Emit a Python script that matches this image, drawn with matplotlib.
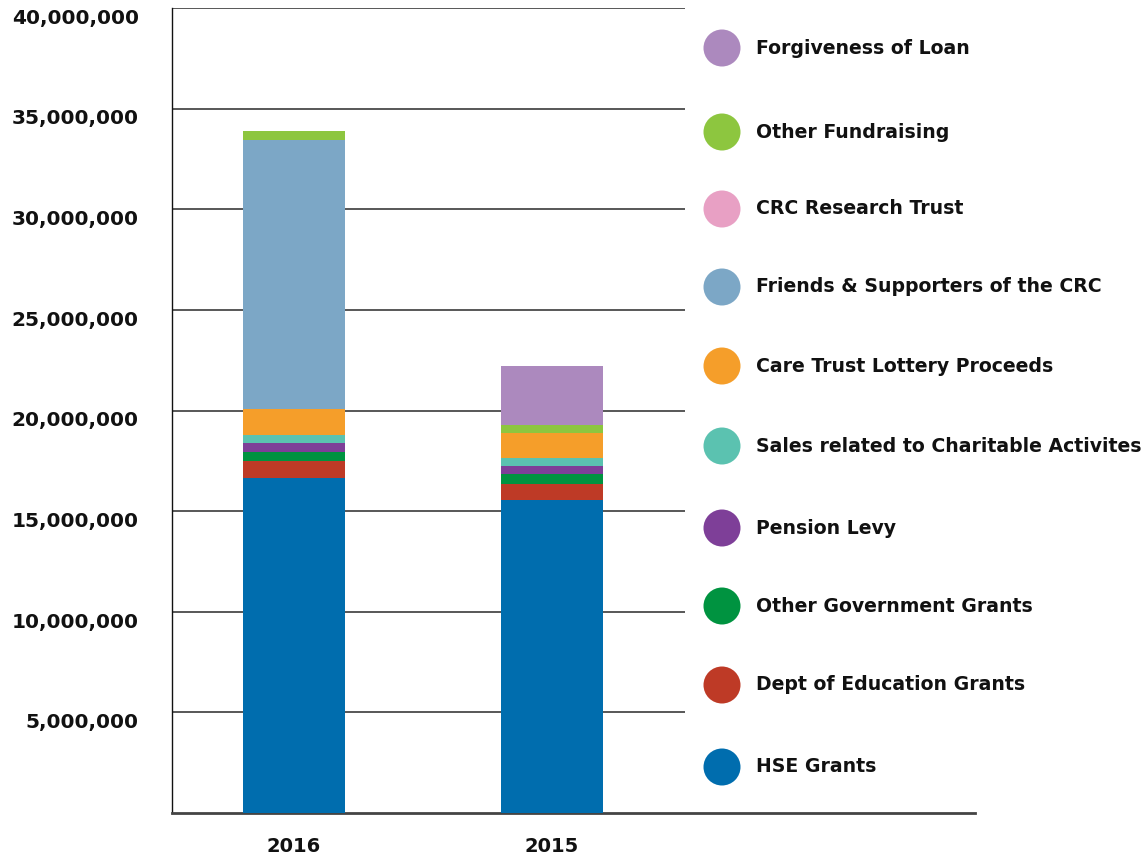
import matplotlib
matplotlib.use("Agg")
import matplotlib.pyplot as plt
import matplotlib.transforms as mtransforms
from matplotlib.patches import Circle
from matplotlib.ticker import FuncFormatter

# data (euro)
years = ["2016", "2015"]
series = [
    "HSE Grants",
    "Dept of Education Grants",
    "Other Government Grants",
    "Pension Levy",
    "Sales related to Charitable Activites",
    "Care Trust Lottery Proceeds",
    "Friends & Supporters of the CRC",
    "CRC Research Trust",
    "Other Fundraising",
    "Forgiveness of Loan",
]
hse = [16630000, 15560000]
dept_education = [840000, 800000]
other_gov = [470000, 460000]
pension_levy = [440000, 400000]
sales_charitable = [410000, 410000]
care_trust = [1260000, 1260000]
friends_supporters = [13400000, 0]
crc_research = [0, 0]
other_fundraising = [450000, 400000]
forgiveness_loan = [0, 2900000]

colors = ["#006DAE", "#BE3A26", "#009340", "#7E3F98", "#5BC2B0",
          "#F59E2A", "#7CA7C6", "#E8A0C4", "#8DC63F", "#AC89BE"]

values = [hse, dept_education, other_gov, pension_levy, sales_charitable,
          care_trust, friends_supporters, crc_research, other_fundraising,
          forgiveness_loan]

W, H = 1146, 859
fig = plt.figure(figsize=(W / 100, H / 100), dpi=100)
fig.patch.set_facecolor("white")

# main axes placed in pixel terms
left, right, top, bottom = 172, 975, 8, 813
ax = fig.add_axes([left / W, (H - bottom) / H, (right - left) / W, (bottom - top) / H])

x = [0, 1]
base = [0, 0]
for name, vals, c in zip(series, values, colors):
    ax.bar(x, vals, width=0.395, bottom=base, color=c, label=name, zorder=3)
    base = [b + v for b, v in zip(base, vals)]

ax.set_xlim(-0.473, 2.64)
ax.set_ylim(0, 40000000)

# gridlines only under the bar area
for yv in range(5000000, 40000001, 5000000):
    ax.hlines(yv, -0.473, 1.515, color="#2a2a2a", lw=1.1, zorder=1)

for s in ["top", "right"]:
    ax.spines[s].set_visible(False)
ax.spines["left"].set_color("#111111")
ax.spines["left"].set_linewidth(1.0)
ax.spines["bottom"].set_color("#444444")
ax.spines["bottom"].set_linewidth(2.0)

ax.set_yticks(range(5000000, 40000001, 5000000))
ax.yaxis.set_major_formatter(FuncFormatter(lambda v, p: "{:,.0f}".format(v)))
ax.tick_params(axis="y", length=0, pad=24, labelsize=14.5)
ax.set_xticks(x)
ax.set_xticklabels(years)
ax.tick_params(axis="x", length=0, pad=17, labelsize=14)
for lab in ax.get_yticklabels() + ax.get_xticklabels():
    lab.set_fontweight("bold")
    lab.set_color("#111111")
shift = mtransforms.ScaledTranslation(0, -6 / 72, fig.dpi_scale_trans)
for lab in ax.get_yticklabels():
    lab.set_transform(lab.get_transform() + shift)

# legend with circles, drawn in pixel coordinates
lax = fig.add_axes([0, 0, 1, 1], zorder=5)
lax.set_xlim(0, W)
lax.set_ylim(H, 0)
lax.axis("off")
lax.patch.set_alpha(0)
legend_y = [767, 685, 606, 528, 446, 366, 287, 209, 132, 48]
for name, c, ly in zip(series, colors, legend_y):
    lax.add_patch(Circle((722, ly), 18.5, color=c, lw=0))
    lax.text(756, ly, name, fontsize=13.6, fontweight="bold", color="#111111",
             va="center", ha="left")

fig.savefig("out.png", dpi=100)
